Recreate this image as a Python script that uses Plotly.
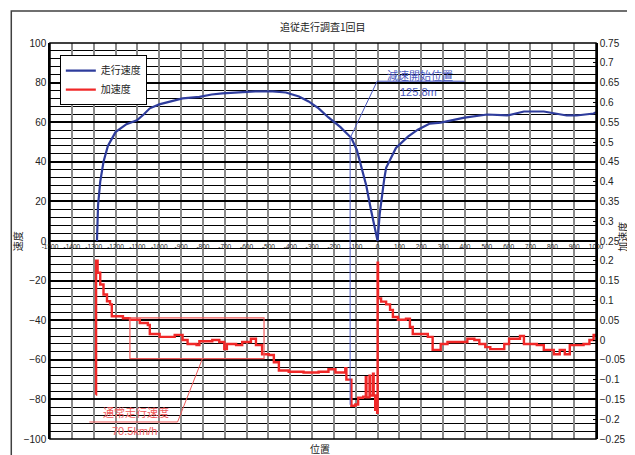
import plotly.graph_objects as go

# ---------------- data ----------------
chart_title = "追従走行調査1回目"
speed_name = "走行速度"
accel_name = "加速度"
left_title = "速度"
right_title = "加速度"
bottom_title = "位置"

pos_speed = [-1285, -1280, -1270, -1255, -1235, -1200, -1150, -1102, -1070, -1043,
             -1000, -950, -893, -816, -760, -711, -634, -560, -480, -420,
             -360, -316, -270, -225, -170, -120, -95, -75, -52, -30,
             -12, 0, 10, 20, 30, 39, 84, 139, 184, 239,
             289, 398, 502, 593, 670, 761, 807, 866, 911, 989, 1000]
speed = [0, 18, 30, 40, 48, 55, 59, 61, 64, 67,
         69, 70.5, 72, 72.8, 74, 74.6, 75.2, 75.6, 75.6, 75,
         73, 70.5, 67, 62.4, 57.5, 52, 46, 37.4, 28, 15.5,
         6, 0, 14, 24, 31, 37, 47, 52.7, 56.2, 59.3,
         59.8, 62.3, 63.9, 63.4, 65.4, 65.4, 64.4, 63.4, 63.4, 64.4, 65]

pos_accel = [-1290, -1289, -1282, -1270, -1255, -1239, -1225, -1217, -1166, -1134,
             -1089, -1052, -1043, -998, -929, -893, -870, -829, -816, -757,
             -725, -702, -690, -648, -620, -580, -557, -529, -498, -475,
             -452, -407, -339, -270, -225, -193, -148, -143, -120, -102,
             -89, -66, -54, -51, -37, -34, -21, -18, -11,
             -2, 0, 2, 16, 39, 57, 70, 93, 130, 148,
             161, 230, 252, 289, 320, 411, 443, 466, 493, 516,
             580, 602, 652, 670, 729, 761, 807, 834, 857, 880,
             943, 970, 989, 1000]
accel = [-0.138, 0.20, 0.17, 0.14, 0.115, 0.098, 0.09, 0.06, 0.055, 0.051,
         0.043, 0.038, 0.015, 0.008, 0.013, 0.0, -0.01, -0.013, -0.003, 0.0,
         -0.005, -0.023, -0.01, -0.013, -0.005, 0.003, -0.013, -0.036, -0.038, -0.056,
         -0.077, -0.08, -0.082, -0.08, -0.074, -0.082, -0.071, -0.1, -0.166, -0.163,
         -0.146, -0.143, -0.094, -0.145, -0.09, -0.14, -0.085, -0.14, -0.176,
         -0.184, 0.195, 0.105, 0.097, 0.09, 0.076, 0.058, 0.051, 0.054, 0.033,
         0.015, 0.008, -0.025, -0.01, -0.005, 0.003, 0.0, -0.01, -0.018, -0.023,
         -0.01, 0.003, 0.01, -0.01, -0.013, -0.025, -0.036, -0.025, -0.036, -0.013,
         -0.01, 0.0, 0.013, 0.008]

x_tick_vals = [-1500, -1400, -1300, -1200, -1100, -1000, -900, -800, -700, -600, -500,
               -400, -300, -200, -100, 0, 100, 200, 300, 400, 500, 600, 700, 800, 900, 1000]
x_tick_text = ["-1500", "-1400", "-1300", "-1200", "-1100", "-1000", "-900", "-800", "-700",
               "-600", "-500", "-400", "-300", "-200", "-100", "0", "100", "200", "300",
               "400", "500", "600", "700", "800", "900", "1000"]
left_tick_vals = [-100, -80, -60, -40, -20, 0, 20, 40, 60, 80, 100]
right_tick_vals = [-0.25, -0.2, -0.15, -0.1, -0.05, 0, 0.05, 0.1, 0.15, 0.2, 0.25,
                   0.3, 0.35, 0.4, 0.45, 0.5, 0.55, 0.6, 0.65, 0.7, 0.75]
right_tick_text = ["−0.25", "−0.2", "−0.15", "−0.1", "−0.05", "0", "0.05", "0.1", "0.15",
                   "0.2", "0.25", "0.3", "0.35", "0.4", "0.45", "0.5", "0.55", "0.6",
                   "0.65", "0.7", "0.75"]

decel_label = "減速開始位置"
decel_value = "125.8m"
decel_pos = -125.8
normal_label = "通常走行速度"
normal_value = "70.5km/h"

# ---------------- styles ----------------
BLUE = "#2e3c9c"
BLUE_THIN = "#4a58c0"
RED = "#f02828"
RED_THIN = "#f05a5a"
NUM_FONT = "Liberation Sans Narrow, Liberation Sans, Arial, sans-serif"
CJK_FONT = "Noto Sans CJK JP, Noto Sans CJK SC, sans-serif"

fig = go.Figure()
fig.add_trace(go.Scatter(x=pos_speed, y=speed, mode="lines", name=speed_name,
                         line=dict(color=BLUE, width=2.2), yaxis="y"))
fig.add_trace(go.Scatter(x=pos_accel, y=accel, mode="lines", name=accel_name,
                         line=dict(color=RED, width=2.4, shape="hv"), yaxis="y2"))

shapes = [
    # outer frame
    dict(type="rect", xref="paper", yref="paper", x0=-0.0709, x1=1.2, y0=-0.2, y1=1.081,
         line=dict(color="#404040", width=1.5), layer="below"),
    # plot border
    dict(type="rect", xref="paper", yref="paper", x0=0, x1=1, y0=0, y1=1,
         line=dict(color="black", width=1.5)),
    # deceleration marker
    dict(type="line", xref="x", yref="y", x0=decel_pos, x1=decel_pos, y0=-82.7, y1=52,
         line=dict(color=BLUE_THIN, width=1)),
    dict(type="line", xref="x", yref="y", x0=decel_pos, x1=-2, y0=52, y1=80.7,
         line=dict(color=BLUE_THIN, width=1)),
    dict(type="line", xref="x", yref="y", x0=-2, x1=398, y0=80.7, y1=80.7,
         line=dict(color=BLUE_THIN, width=1)),
    # normal speed callout
    dict(type="rect", xref="x", yref="y", x0=-1134, x1=-520, y0=-59.4, y1=-38.8,
         line=dict(color=RED_THIN, width=1.2)),
    dict(type="line", xref="x", yref="y", x0=-802, x1=-916, y0=-59.4, y1=-91.4,
         line=dict(color=RED_THIN, width=1)),
    dict(type="line", xref="x", yref="y", x0=-1320, x1=-916, y0=-91.4, y1=-91.4,
         line=dict(color=RED_THIN, width=1)),
]

annotations = [
    dict(text=chart_title, xref="paper", yref="paper", x=0.5, y=1.0406, showarrow=False,
         xanchor="center", yanchor="middle",
         font=dict(family=CJK_FONT, size=10, color="#222")),
    dict(text=left_title, xref="paper", yref="paper", x=-0.06, y=0.5, showarrow=False,
         xanchor="center", yanchor="middle", textangle=-90,
         font=dict(family=CJK_FONT, size=10, color="#222")),
    dict(text=right_title, xref="paper", yref="paper", x=1.047, y=0.51, showarrow=False,
         xanchor="center", yanchor="middle", textangle=-90,
         font=dict(family=CJK_FONT, size=10, color="#222")),
    dict(text=bottom_title, xref="paper", yref="paper", x=0.4945, y=-0.024, showarrow=False,
         xanchor="center", yanchor="middle",
         font=dict(family=CJK_FONT, size=10, color="#222")),
    dict(text=decel_label, xref="x", yref="y", x=195, y=83.8, showarrow=False,
         font=dict(family=CJK_FONT, size=11, color=BLUE_THIN)),
    dict(text=decel_value, xref="x", yref="y", x=189, y=75.1, showarrow=False,
         font=dict(family=NUM_FONT, size=11, color=BLUE_THIN)),
    dict(text=normal_label, xref="x", yref="y", x=-1107, y=-86.3, showarrow=False,
         font=dict(family=CJK_FONT, size=11, color=RED_THIN)),
    dict(text=normal_value, xref="x", yref="y", x=-1111, y=-95.9, showarrow=False,
         font=dict(family=NUM_FONT, size=11, color=RED_THIN)),
]

# page body has an 8px default margin, so the figure is drawn 8px smaller
fig.update_layout(
    width=627, height=447,
    margin=dict(l=42, r=27, t=35, b=10),
    paper_bgcolor="white", plot_bgcolor="white",
    font=dict(family=NUM_FONT, size=10, color="#222"),
    showlegend=True,
    legend=dict(x=0.018, y=0.9695, xanchor="left", yanchor="top",
                bgcolor="white", bordercolor="black", borderwidth=1,
                font=dict(family=CJK_FONT, size=10, color="#222"),
                itemwidth=30, tracegroupgap=0),
    xaxis=dict(range=[-1500, 1000], anchor="free", position=0.5,
               tickvals=x_tick_vals, ticktext=x_tick_text,
               tickfont=dict(size=6.5, family=NUM_FONT),
               showgrid=True, gridcolor="#8a8a8a", gridwidth=2,
               zeroline=False, showline=False, ticks=""),
    yaxis=dict(range=[-100, 100], tickvals=left_tick_vals,
               showgrid=True, gridcolor="black", gridwidth=2,
               minor=dict(dtick=4, tick0=0, showgrid=True, gridcolor="black", gridwidth=1.1),
               zeroline=False, showline=True, linecolor="black", linewidth=1.5,
               ticks="", tickfont=dict(size=10)),
    yaxis2=dict(range=[-0.25, 0.75], overlaying="y", side="right",
                tickvals=right_tick_vals, ticktext=right_tick_text,
                showgrid=False, zeroline=False, showline=True, linecolor="black",
                linewidth=1.5, ticks="inside", ticklen=3, tickcolor="black",
                tickfont=dict(size=10)),
    shapes=shapes,
    annotations=annotations,
)

fig.write_html("out.html")
